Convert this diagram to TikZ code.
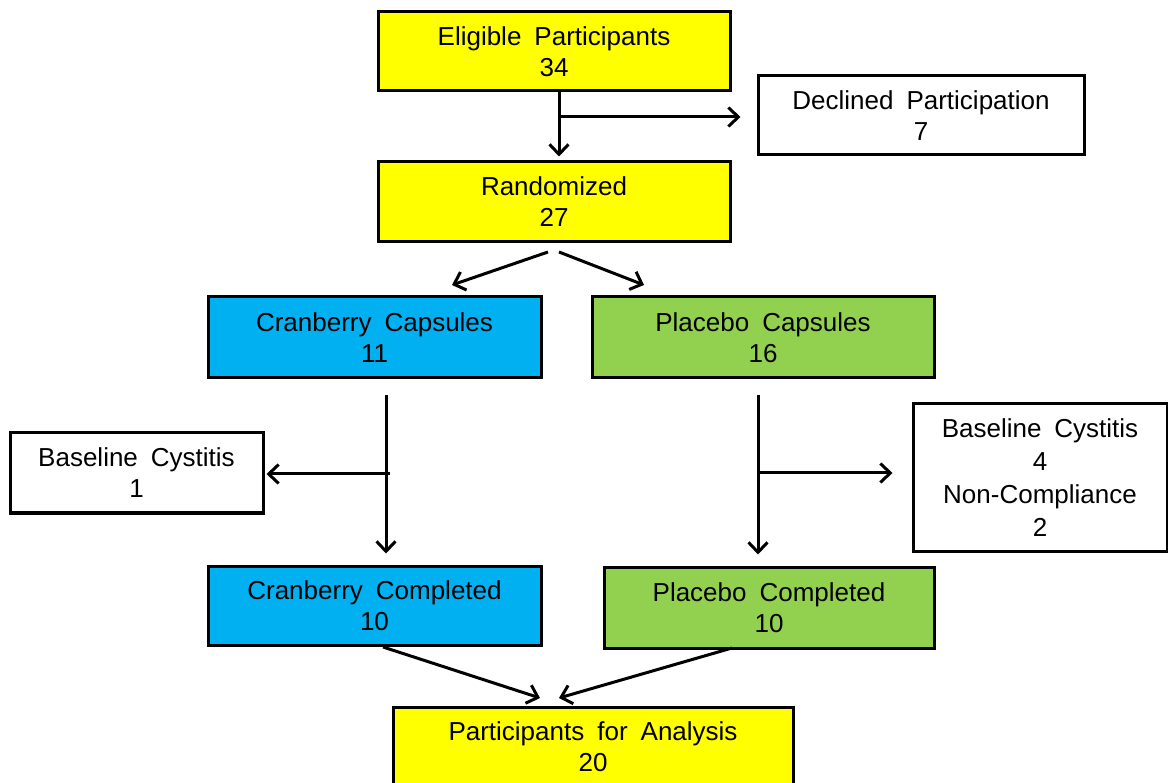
\documentclass[tikz,border=0pt]{standalone}
\usepackage{fontspec}
\setmainfont{Liberation Sans}[WordSpace=1.8]
\usetikzlibrary{arrows.meta}
\definecolor{boxyellow}{RGB}{255,255,0}
\definecolor{boxblue}{RGB}{0,176,240}
\definecolor{boxgreen}{RGB}{146,208,80}
\tikzset{
  box/.style={draw=black, line width=3pt, align=center, inner sep=0pt,
    font=\fontsize{26}{31}\selectfont},
  yellowbox/.style={box, fill=boxyellow},
  bluebox/.style={box, fill=boxblue},
  greenbox/.style={box, fill=boxgreen},
  whitebox/.style={box, fill=white},
}

\begin{document}
\begin{tikzpicture}[x=1pt,y=-1pt,>={Straight Barb[length=10pt,width=19pt,line width=3pt]},line width=3pt]
   \useasboundingbox (0,0) rectangle (1168,783);

   \node[yellowbox, minimum width=352, minimum height=79] (elig) at (554,51.5) {Eligible Participants\\34};
   \node[whitebox, minimum width=326, minimum height=79] (decl) at (921,115.5) {Declined Participation\\7};
   \node[yellowbox, minimum width=352, minimum height=80] (rand) at (554,202) {Randomized\\27};
   \node[bluebox, minimum width=333, minimum height=81] (cap) at (374.5,337.5) {Cranberry Capsules\\11};
   \node[greenbox, minimum width=342, minimum height=81] (plac) at (763,337.5) {Placebo Capsules\\16};
   \node[whitebox, minimum width=253, minimum height=80] (bc1) at (136.5,473) {Baseline Cystitis\\1};
   \node[whitebox, minimum width=254, minimum height=147, font=\fontsize{26}{33}\selectfont] (bc2) at (1040,477.5) {Baseline Cystitis\\4\\Non-Compliance\\2};
   \node[bluebox, minimum width=333, minimum height=79] (cc) at (374.5,605.5) {Cranberry Completed\\10};
   \node[greenbox, minimum width=330, minimum height=81] (pc) at (769,607.5) {Placebo Completed\\10};
   \node[yellowbox, minimum width=400, minimum height=79] (anal) at (593,746.5) {Participants for Analysis\\20};

   % split points and free ends
   \coordinate (esplit) at (559,117);
   \coordinate (rl) at (548,252);
   \coordinate (rr) at (559,252);
   \coordinate (capin) at (452,285);
   \coordinate (placin) at (644,285);
   \coordinate (cdown) at (386,395);
   \coordinate (cside) at (390,474);
   \coordinate (pdown) at (758,395);
   \coordinate (pside) at (758,473);
   \coordinate (ccout) at (383,647);
   \coordinate (pcout) at (732,648);
   \coordinate (analin) at (576,698);

   \draw[->, shorten >=4pt] (elig.south -| esplit) -- (rand.north -| esplit);
   \draw[->, shorten >=16pt] (esplit) -- (decl.west |- esplit);
   \draw[->] (rl) -- (capin);
   \draw[->] (rr) -- (placin);
   \draw[->, shorten >=11pt] (cdown) -- (cc.north -| cdown);
   \draw[->, shorten >=2pt] (cside) -- (bc1.east |- cside);
   \draw[->, shorten >=11pt] (pdown) -- (pc.north -| pdown);
   \draw[->, shorten >=19pt] (pside) -- (bc2.west |- pside);
   \draw[->] (ccout) -- ([xshift=-36pt]analin);
   \draw[->] (pcout) -- ([xshift=-17pt]analin);
\end{tikzpicture}
\end{document}
